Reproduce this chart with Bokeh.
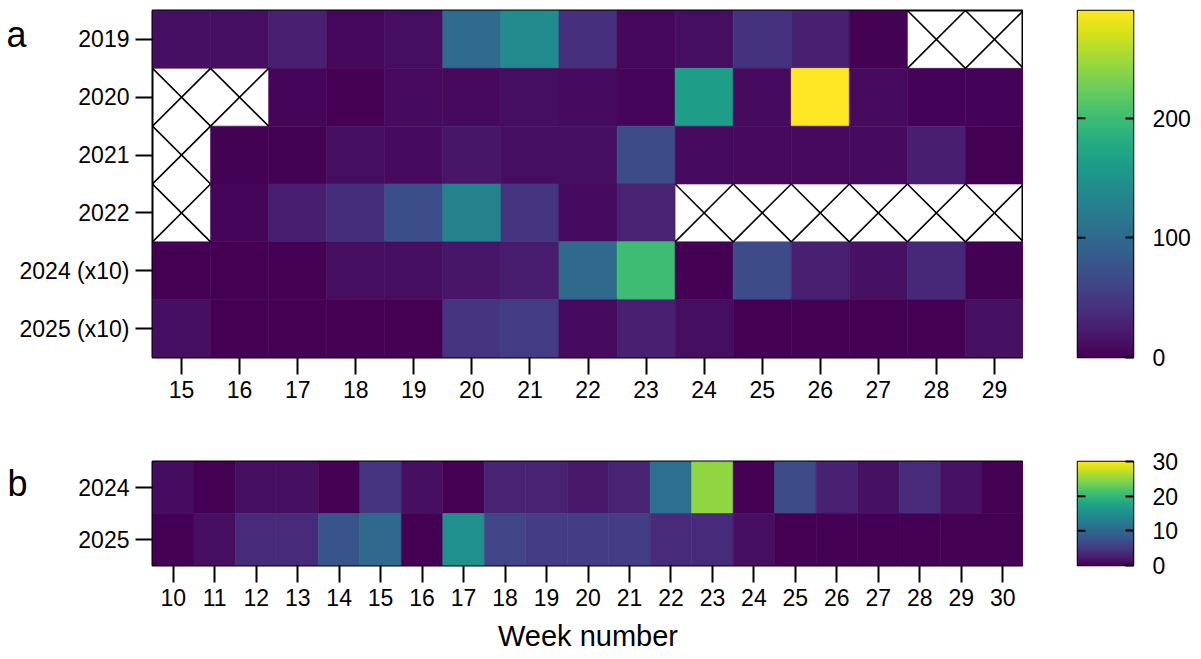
import numpy as np
from bokeh.plotting import figure
from bokeh.models import ColumnDataSource, LinearColorMapper, FixedTicker, LinearAxis
from bokeh.palettes import Viridis256
from bokeh.layouts import column, row
from bokeh.embed import file_html
from bokeh.resources import INLINE

FONT = "Liberation Sans"
TICK_FS = "23px"

# ---------------- data: panel a ----------------
weeks_a = [15, 16, 17, 18, 19, 20, 21, 22, 23, 24, 25, 26, 27, 28, 29]
years_a = ["2019", "2020", "2021", "2022", "2024 (x10)", "2025 (x10)"]
a_2019 = [12, 12, 25, 6, 11, 101, 140, 40, 6, 11, 42, 25, 2, None, None]
a_2020 = [None, None, 5, 1, 9, 7, 11, 9, 5, 163, 8, 290, 8, 3, 3]
a_2021 = [None, 2, 2, 11, 9, 17, 11, 11, 66, 9, 7, 7, 8, 24, 1]
a_2022 = [None, 4, 24, 38, 70, 130, 44, 8, 29, None, None, None, None, None, None]
a_2024x10 = [1, 1, 1, 11, 11, 17, 22, 100, 200, 1, 66, 25, 13, 33, 2]
a_2025x10 = [12, 1, 1, 1, 1, 44, 50, 9, 25, 11, 1, 1, 1, 1, 13]
rows_a = [a_2019, a_2020, a_2021, a_2022, a_2024x10, a_2025x10]
vmax_a = 290
cb_ticks_a = [0, 100, 200]

# ---------------- data: panel b ----------------
weeks_b = [10, 11, 12, 13, 14, 15, 16, 17, 18, 19, 20, 21, 22, 23, 24, 25, 26, 27, 28, 29, 30]
years_b = ["2024", "2025"]
b_2024 = [1.0, 0.1, 1.2, 1.2, 0.1, 4.5, 1.2, 0.1, 3.0, 3.0, 2.0, 3.0, 11.0, 25.0, 0.1, 7.0, 2.7, 1.4, 3.6, 1.5, 0.1]
b_2025 = [0.1, 1.2, 3.6, 3.6, 7.8, 10.2, 0.1, 15.0, 6.3, 5.4, 5.4, 5.4, 3.6, 3.6, 1.2, 0.1, 0.1, 0.1, 0.1, 0.1, 0.1]
rows_b = [b_2024, b_2025]
vmax_b = 30
cb_ticks_b = [0, 10, 20, 30]


def style_axis(ax):
    ax.axis_line_color = None
    ax.major_tick_out = 17
    ax.major_tick_in = 0
    ax.major_tick_line_width = 2
    ax.major_tick_line_color = "black"
    ax.minor_tick_line_color = None
    ax.major_label_text_font = FONT
    ax.major_label_text_font_size = TICK_FS
    ax.major_label_text_color = "black"
    ax.major_label_standoff = 6


def heatmap(weeks, years, rows, vmax, cb_ticks, frame_h, top, bottom, letter, letter_standoff,
            letter_shift, xlabel=None):
    n = len(years)
    x, y, v = [], [], []
    sx0, sy0, sx1, sy1 = [], [], [], []
    for i, r in enumerate(rows):
        yi = n - 1 - i
        for w, val in zip(weeks, r):
            if val is None:
                sx0 += [w - 0.5, w - 0.5]
                sy0 += [yi - 0.5, yi + 0.5]
                sx1 += [w + 0.5, w + 0.5]
                sy1 += [yi + 0.5, yi - 0.5]
            else:
                x.append(w)
                y.append(yi)
                v.append(val)
    mapper = LinearColorMapper(palette=Viridis256, low=0, high=vmax)
    p = figure(frame_width=871, frame_height=frame_h,
               x_range=(weeks[0] - 0.5, weeks[-1] + 0.5), y_range=(-0.5, n - 0.5),
               output_backend="svg", toolbar_location=None,
               min_border_left=152, min_border_top=top, min_border_bottom=bottom,
               min_border_right=0, background_fill_color="white")
    src = ColumnDataSource(dict(x=x, y=y, v=v))
    p.rect(x="x", y="y", width=1, height=1, source=src,
           fill_color={"field": "v", "transform": mapper},
           line_color={"field": "v", "transform": mapper}, line_width=0.6)
    if sx0:
        p.segment(x0=sx0, y0=sy0, x1=sx1, y1=sy1, line_color="black", line_width=1.6)
    p.grid.visible = False
    p.outline_line_color = "black"
    p.outline_line_width = 2
    p.outline_line_alpha = 1
    style_axis(p.xaxis[0])
    style_axis(p.yaxis[0])
    p.xaxis.ticker = FixedTicker(ticks=weeks)
    p.yaxis.ticker = FixedTicker(ticks=list(range(n)))
    p.yaxis.major_label_overrides = {n - 1 - i: lab for i, lab in enumerate(years)}
    if xlabel:
        p.xaxis.axis_label = xlabel
        p.xaxis.axis_label_text_font = FONT
        p.xaxis.axis_label_text_font_size = "29px"
        p.xaxis.axis_label_text_font_style = "normal"
        p.xaxis.axis_label_text_color = "black"
        p.xaxis.axis_label_standoff = 11

    # panel letter, drawn as the single label of an outer left axis near the top row
    pos = (n - 1) + letter_shift
    outer = LinearAxis(ticker=FixedTicker(ticks=[pos]),
                       major_label_overrides={pos: letter})
    outer.axis_line_color = None
    outer.major_tick_line_color = None
    outer.minor_tick_line_color = None
    outer.major_tick_out = 0
    outer.major_tick_in = 0
    outer.major_label_text_font = FONT
    outer.major_label_text_font_size = "36px"
    outer.major_label_text_color = "black"
    outer.major_label_standoff = letter_standoff
    p.add_layout(outer, "left")

    # colour bar as its own small figure
    c = figure(frame_width=56, frame_height=frame_h, x_range=(0, 1), y_range=(0, vmax),
               output_backend="svg", toolbar_location=None,
               min_border_left=54, min_border_right=62, min_border_top=top,
               min_border_bottom=bottom, y_axis_location="right")
    grad = np.linspace(0, vmax, 256).reshape(256, 1)
    c.image(image=[grad], x=0, y=0, dw=1, dh=vmax, color_mapper=mapper)
    inner_ticks = [t for t in cb_ticks if 0 < t < vmax]
    tick_len = 8 / 56
    c.segment(x0=[0] * len(inner_ticks), x1=[tick_len] * len(inner_ticks),
              y0=inner_ticks, y1=inner_ticks, line_color="black", line_width=2)
    c.grid.visible = False
    c.xaxis.visible = False
    c.outline_line_color = "black"
    c.outline_line_width = 1.5
    c.outline_line_alpha = 1
    ra = c.yaxis[0]
    style_axis(ra)
    ra.ticker = FixedTicker(ticks=cb_ticks)
    ra.major_tick_out = 0
    ra.major_tick_in = 8
    ra.major_label_standoff = 19
    return row(p, c, spacing=0)


pa = heatmap(weeks_a, years_a, rows_a, vmax_a, cb_ticks_a, 347, 10, 52, "a", -10, 0.09)
pb = heatmap(weeks_b, years_b, rows_b, vmax_b, cb_ticks_b, 104, 52, 94, "b", 48, 0.07,
             xlabel="Week number")

layout = column(pa, pb, spacing=0)
open("out.html", "w").write(file_html(layout, INLINE))
